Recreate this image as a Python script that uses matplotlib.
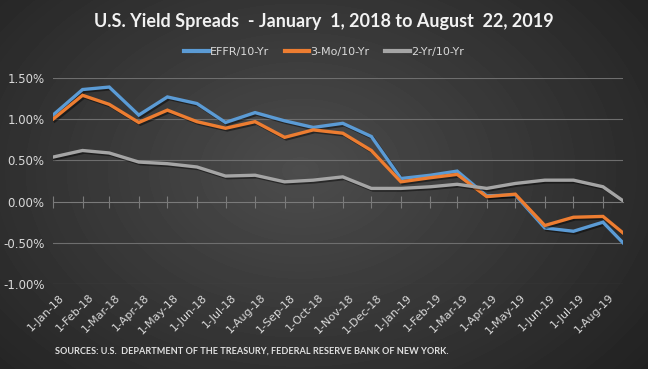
import datetime as dt

import matplotlib

matplotlib.use("Agg")
import matplotlib.dates as mdates
import matplotlib.patheffects as pe
import matplotlib.pyplot as plt
import numpy as np
from matplotlib.lines import Line2D

# monthly points plus the last reading on Aug 22, 2019
dates = [dt.date(2018, m, 1) for m in range(1, 13)] + [
    dt.date(2019, m, 1) for m in range(1, 9)
] + [dt.date(2019, 8, 22)]
tick_dates = dates[:-1]
tick_labels = [d.strftime("%-d-%b-%y") for d in tick_dates]

effr_10y = [1.05, 1.36, 1.39, 1.05, 1.27, 1.19, 0.96, 1.08, 0.98, 0.90, 0.95,
            0.79, 0.28, 0.32, 0.37, 0.07, 0.08, -0.32, -0.36, -0.25, -0.50]
mo3_10y = [1.00, 1.29, 1.18, 0.96, 1.11, 0.97, 0.89, 0.97, 0.78, 0.87, 0.83,
           0.62, 0.24, 0.29, 0.33, 0.06, 0.09, -0.29, -0.19, -0.18, -0.38]
yr2_10y = [0.54, 0.62, 0.59, 0.48, 0.46, 0.42, 0.31, 0.32, 0.24, 0.26, 0.30,
           0.16, 0.16, 0.18, 0.21, 0.16, 0.22, 0.26, 0.26, 0.18, 0.01]
series_names = ["EFFR/10-Yr", "3-Mo/10-Yr", "2-Yr/10-Yr"]
series_colors = ["#5B9BD5", "#ED7D31", "#A5A5A5"]
y_ticks = [-1.0, -0.5, 0.0, 0.5, 1.0, 1.5]

W, H = 648, 369
fig = plt.figure(figsize=(W / 100, H / 100), dpi=100)

# radial dark gradient background
bg = fig.add_axes([0, 0, 1, 1], zorder=-10)
yy, xx = np.mgrid[0:H, 0:W]
r = np.sqrt(((xx - 300) / 420.0) ** 2 + ((yy - 170) / 300.0) ** 2)
shade = np.clip(0.30 - 0.16 * r, 0.12, 0.30)
bg.imshow(shade, cmap="gray", vmin=0, vmax=1, aspect="auto",
          extent=[0, 1, 0, 1], interpolation="bilinear")
bg.set_axis_off()

ax = fig.add_axes([53 / W, 1 - 284 / H, 570 / W, 206 / H])
ax.patch.set_alpha(0)

x = mdates.date2num(dates)
shadow = [pe.SimpleLineShadow(offset=(1.2, -1.2), alpha=0.45, shadow_color="black"),
          pe.Normal()]
for vals, color in zip([effr_10y, mo3_10y, yr2_10y], series_colors):
    ax.plot(x, vals, color=color, lw=2.4, solid_joinstyle="miter",
            path_effects=shadow, zorder=3)

ax.set_xlim(x[0], x[-1])
ax.set_ylim(-1.0, 1.5)
ax.set_yticks(y_ticks)
ax.set_yticklabels([f"{v:.2f}%" for v in y_ticks], color="#D9D9D9", fontsize=8.5)
ax.tick_params(axis="y", length=0, pad=6)
for v in y_ticks:
    if v != 0:
        ax.axhline(v, color="#6E6E6E", lw=0.8, zorder=1)

for s in ["top", "right", "left"]:
    ax.spines[s].set_visible(False)
ax.spines["bottom"].set_position(("data", 0))
ax.spines["bottom"].set_color("#7A7A7A")
ax.spines["bottom"].set_linewidth(0.8)
ax.set_xticks(mdates.date2num(tick_dates))
ax.tick_params(axis="x", direction="inout", length=8, color="#7A7A7A",
               width=0.8, labelbottom=False)

for d, lab in zip(mdates.date2num(tick_dates), tick_labels):
    ax.text(d + 6, -0.04, lab, transform=ax.get_xaxis_transform(),
            rotation=45, ha="right", va="top", color="#D9D9D9", fontsize=8,
            rotation_mode="anchor")

fig.text(0.5, 1 - 21 / H, "U.S. Yield Spreads  - January  1, 2018 to August  22, 2019",
         ha="center", va="center", color="#F2F2F2", fontsize=13,
         fontweight="bold", family="Lato")

handles = [Line2D([], [], color=c, lw=3) for c in series_colors]
leg = fig.legend(handles, series_names, loc="center", bbox_to_anchor=(0.5, 1 - 52 / H),
                 ncol=3, frameon=False, fontsize=8, handlelength=2.2,
                 handletextpad=0.1, columnspacing=1.4, labelcolor="#D9D9D9")

fig.text(55 / W, 1 - 351 / H,
         "SOURCES: U.S.  DEPARTMENT OF THE TREASURY, FEDERAL RESERVE BANK OF NEW YORK.",
         ha="left", va="center", color="#E0E0E0", fontsize=6.6, fontweight="bold",
         family="Lato")

fig.savefig("out.png", dpi=100)
